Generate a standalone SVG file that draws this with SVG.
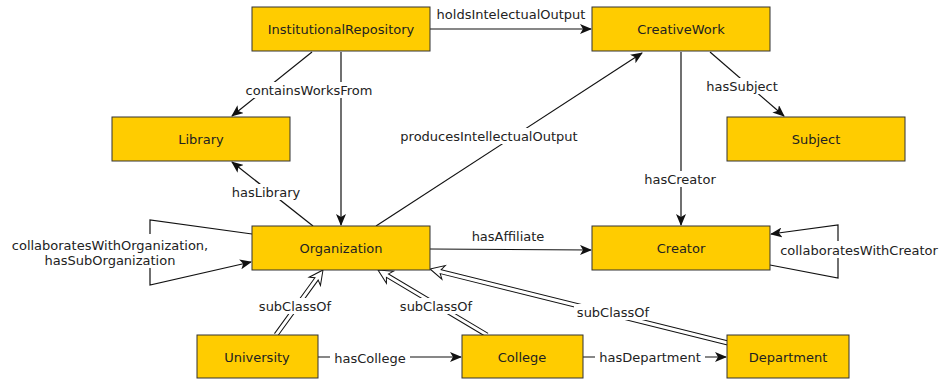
<svg xmlns="http://www.w3.org/2000/svg" width="940" height="380" viewBox="0 0 940 380">
<defs>
<style>
.node rect{fill:#FFCC00;stroke:#333;stroke-width:1}
.node text{font-family:"DejaVu Sans","Liberation Sans",sans-serif;font-size:13px;fill:#222;text-anchor:middle;dominant-baseline:central}
.edge{fill:none;stroke:#111;stroke-width:1.2}
.arr{marker-end:url(#ah)}
.sub{fill:#fff;stroke:#111;stroke-width:1}
.lbl{font-family:"DejaVu Sans","Liberation Sans",sans-serif;font-size:13px;fill:#222;text-anchor:middle;dominant-baseline:central}
.bg{fill:#fff}
</style>
<marker id="ah" viewBox="0 0 12 10" refX="11" refY="5" markerWidth="12" markerHeight="10" markerUnits="userSpaceOnUse" orient="auto">
<path d="M0,0 L12,5 L0,10 L3,5 Z" fill="#111"/>
</marker>
</defs>
<rect width="940" height="380" fill="#fff"/>
<g id="connectors">
<path class="edge arr" d="M430,29 L591,29"/>
<path class="edge arr" d="M312,52 L232,116"/>
<path class="edge arr" d="M341,52 L341,225"/>
<path class="edge arr" d="M313,226 L232,162"/>
<path class="edge arr" d="M376,226 L642,53"/>
<path class="edge arr" d="M710,52 L784,116"/>
<path class="edge arr" d="M681,52 L681,225"/>
<path class="edge arr" d="M430,249 L591,250"/>
<path class="edge arr" d="M252,234 L150,220 L150,285 L251,262"/>
<path class="edge arr" d="M770,265 L838,278 L838,225 L771,234"/>
<path class="edge arr" d="M318,357 L461,357"/>
<path class="edge arr" d="M583,357 L726,357"/>
<path class="sub" transform="translate(323,270) rotate(-54.1)" d="M-80,-2 L-11,-2 L-14,-7 L0,0 L-14,7 L-11,2 L-80,2"/>
<path class="sub" transform="translate(378,270) rotate(-149.2)" d="M-127,-2 L-11,-2 L-14,-7 L0,0 L-14,7 L-11,2 L-127,2"/>
<path class="sub" transform="translate(430,269) rotate(-166.05)" d="M-307,-2 L-11,-2 L-14,-7 L0,0 L-14,7 L-11,2 L-307,2"/>
<text class="lbl" x="511" y="14">holdsIntelectualOutput</text>
<rect class="bg" x="242" y="82" width="134" height="16"/>
<text class="lbl" x="309" y="90">containsWorksFrom</text>
<rect class="bg" x="230" y="184" width="72" height="16"/>
<text class="lbl" x="266" y="192">hasLibrary</text>
<rect class="bg" x="410" y="128" width="158" height="16"/>
<text class="lbl" x="489" y="136">producesIntellectualOutput</text>
<rect class="bg" x="706" y="78" width="72" height="16"/>
<text class="lbl" x="742" y="86">hasSubject</text>
<rect class="bg" x="640" y="171" width="80" height="16"/>
<text class="lbl" x="680" y="179">hasCreator</text>
<text class="lbl" x="508" y="236">hasAffiliate</text>
<rect class="bg" x="8" y="234" width="204" height="34"/>
<text class="lbl" x="110" y="245">collaboratesWithOrganization,</text>
<text class="lbl" x="110" y="260">hasSubOrganization</text>
<rect class="bg" x="778" y="241" width="162" height="17"/>
<text class="lbl" x="859" y="250">collaboratesWithCreator</text>
<rect class="bg" x="256" y="298" width="78" height="16"/>
<text class="lbl" x="295" y="306">subClassOf</text>
<rect class="bg" x="397" y="298" width="78" height="16"/>
<text class="lbl" x="436" y="306">subClassOf</text>
<rect class="bg" x="574" y="304" width="78" height="16"/>
<text class="lbl" x="613" y="312">subClassOf</text>
<rect class="bg" x="330" y="349" width="80" height="16"/>
<text class="lbl" x="370" y="358">hasCollege</text>
<rect class="bg" x="595" y="349" width="110" height="16"/>
<text class="lbl" x="650" y="357">hasDepartment</text>
</g>
<g id="InstitutionalRepository" class="node"><rect x="252" y="7" width="178" height="44"/><text x="341" y="29">InstitutionalRepository</text></g>
<g id="CreativeWork" class="node"><rect x="592" y="7" width="178" height="44"/><text x="681" y="29">CreativeWork</text></g>
<g id="Library" class="node"><rect x="112" y="117" width="178" height="44"/><text x="201" y="139">Library</text></g>
<g id="Subject" class="node"><rect x="727" y="117" width="178" height="44"/><text x="816" y="139">Subject</text></g>
<g id="Organization" class="node"><rect x="252" y="226" width="178" height="44"/><text x="341" y="248">Organization</text></g>
<g id="Creator" class="node"><rect x="592" y="226" width="178" height="44"/><text x="681" y="248">Creator</text></g>
<g id="University" class="node"><rect x="197" y="335" width="121" height="43"/><text x="257" y="357">University</text></g>
<g id="College" class="node"><rect x="462" y="335" width="121" height="43"/><text x="522" y="357">College</text></g>
<g id="Department" class="node"><rect x="727" y="335" width="122" height="43"/><text x="788" y="357">Department</text></g>
</svg>
